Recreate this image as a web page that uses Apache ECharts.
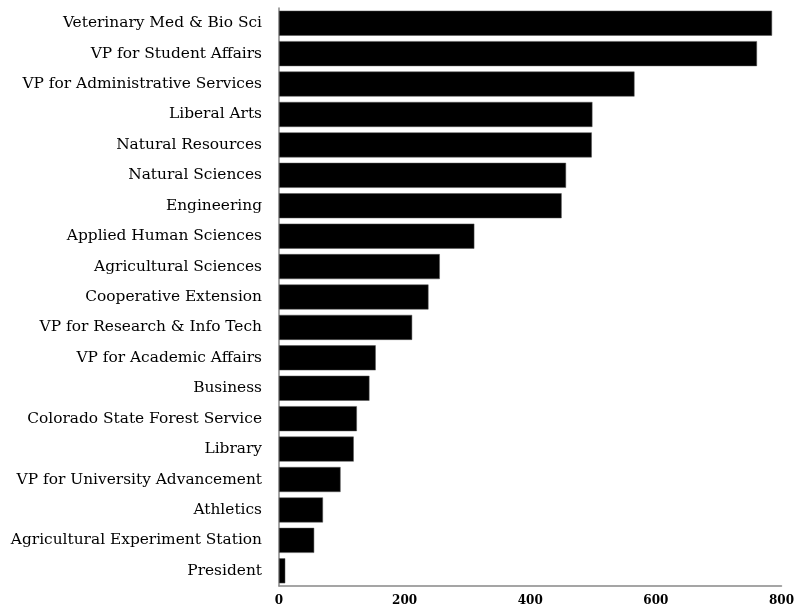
<!DOCTYPE html>
<html><head><meta charset="utf-8">
<script src="https://cdn.jsdelivr.net/npm/echarts@6/dist/echarts.min.js"></script>
<style>html,body{margin:0;padding:0;background:#fff}#c{width:797px;height:609px}</style>
</head><body><div id="c"></div>
<script>
const categories = ["Veterinary Med & Bio Sci","VP for Student Affairs","VP for Administrative Services","Liberal Arts","Natural Resources","Natural Sciences","Engineering","Applied Human Sciences","Agricultural Sciences","Cooperative Extension","VP for Research & Info Tech","VP for Academic Affairs","Business","Colorado State Forest Service","Library","VP for University Advancement","Athletics","Agricultural Experiment Station","President"];
const values = [785,761,566,499,498,457,450,311,256,238,212,154,144,124,119,98,70,56,10];
const xTicks = [0,200,400,600,800];

const chart = echarts.init(document.getElementById('c'), null, {renderer:'canvas'});
chart.setOption({
  animation:false,
  grid:{left:279,right:13,top:8,bottom:23,containLabel:false},
  xAxis:{type:'value',min:xTicks[0],max:xTicks[xTicks.length-1],interval:200,
    axisLine:{show:true,lineStyle:{color:'#888',width:1.5}},
    axisTick:{show:false},splitLine:{show:false},
    axisLabel:{margin:9,fontFamily:'DejaVu Serif',fontWeight:'bold',fontSize:12,color:'#000'}},
  yAxis:{type:'category',data:categories,inverse:true,
    axisLine:{show:true,lineStyle:{color:'#888',width:1.5}},
    axisTick:{show:false},
    axisLabel:{margin:17,fontFamily:'DejaVu Serif',fontSize:15.4,color:'#000'}},
  series:[{type:'bar',data:values,barWidth:25,itemStyle:{color:'#000',borderColor:'#555',borderWidth:0.5}}]
});
</script></body></html>
